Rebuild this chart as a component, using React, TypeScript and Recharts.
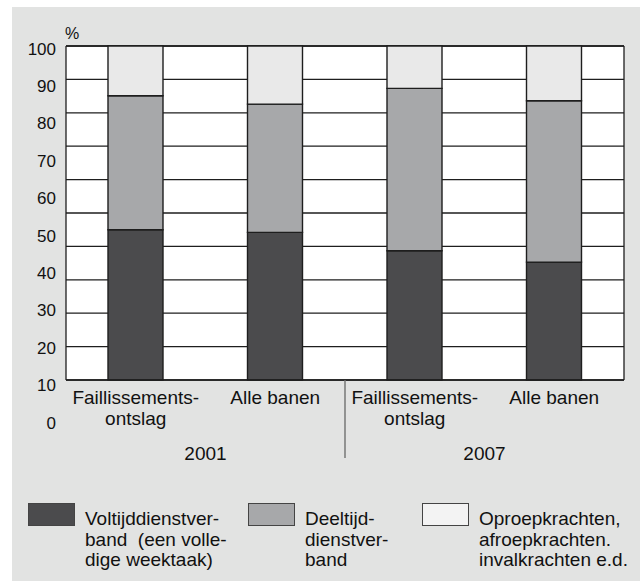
import { BarChart, Bar, XAxis, YAxis, CartesianGrid, Legend } from 'recharts';

const categories = ['Faillissements-\nontslag', 'Alle banen', 'Faillissements-\nontslag', 'Alle banen'];
const years = ['2001', '2001', '2007', '2007'];
const voltijd = [45, 44.2, 38.7, 35.3];
const deeltijd = [40.1, 38.4, 48.6, 48.3];
const oproep = [14.9, 17.4, 12.7, 16.4];
const yTicks = [0, 10, 20, 30, 40, 50, 60, 70, 80, 90, 100];

const seriesNames = [
  'Voltijddienstver-\nband  (een volle-\ndige weektaak)',
  'Deeltijd-\ndienstver-\nband',
  'Oproepkrachten,\nafroepkrachten.\ninvalkrachten e.d.',
];

const data = categories.map((cat, i) => ({
  cat,
  year: years[i],
  voltijd: voltijd[i],
  deeltijd: deeltijd[i],
  oproep: oproep[i],
}));

const W = 628;
const H = 574;
const MARGIN = { top: 39, right: 16, left: 0, bottom: 0 };
const Y_W = 54;
const BAND = (W - Y_W - MARGIN.right) / categories.length;
const FONT = '"Liberation Sans", Arial, Helvetica, sans-serif';

const colors = { dark: '#4b4b4d', mid: '#a7a8aa', light: '#e9e9e9', bg: '#e2e3e2', ink: '#1e1e1e' };
const legendFill = ['#4b4b4d', '#a7a8aa', '#f3f3f3'];
const legendLeft = [16, 236, 410];

function YTick(props: any) {
  const { x, y, payload } = props;
  // labels in the source sit a bit lower than their gridlines, drifting downwards
  const shift = 3 + (100 - payload.value) * 0.4;
  return (
    <text x={x - 10} y={y + shift} textAnchor="end" dominantBaseline="central" fontSize={17} fill="#111" fontFamily={FONT}>
      {payload.value}
    </text>
  );
}

function XTick(props: any) {
  const { x, y, payload, index } = props;
  const lines = String(payload.value).split('\n');
  return (
    <g>
      {lines.map((l, i) => (
        <text key={i} x={x} y={y + 24 + i * 21} textAnchor="middle" fontSize={19} fill="#111" fontFamily={FONT}>
          {l}
        </text>
      ))}
      {index % 2 === 0 && (
        <text x={x + BAND / 2} y={y + 80} textAnchor="middle" fontSize={19} fill="#111" fontFamily={FONT}>
          {years[index]}
        </text>
      )}
      {index === 2 && <line x1={x - BAND / 2} x2={x - BAND / 2} y1={y} y2={y + 78} stroke="#707070" strokeWidth={1.4} />}
    </g>
  );
}

function LegendBlock(props: any) {
  const items = [...(props.payload || [])].sort(
    (a: any, b: any) => seriesNames.indexOf(a.value) - seriesNames.indexOf(b.value)
  );
  return (
    <div style={{ position: 'relative', width: W, height: 80, fontFamily: FONT, fontSize: 19, color: '#111' }}>
      {items.map((p: any, i: number) => (
        <div key={i}>
          <div
            style={{
              position: 'absolute',
              left: legendLeft[i],
              top: 0,
              width: 47,
              height: 23,
              background: legendFill[i],
              border: '1px solid #444',
              boxSizing: 'border-box',
            }}
          />
          <div style={{ position: 'absolute', left: legendLeft[i] + 57, top: 6, whiteSpace: 'pre', lineHeight: '20.5px' }}>
            {p.value}
          </div>
        </div>
      ))}
    </div>
  );
}

export default function App() {
  return (
    <div style={{ position: 'absolute', left: 12, top: 7, width: W, height: H, background: colors.bg }}>
      <BarChart width={W} height={H} data={data} margin={MARGIN} barSize={55}>
        <CartesianGrid
          stroke={colors.ink}
          strokeWidth={1.3}
          fill="#fff"
          fillOpacity={1}
          verticalCoordinatesGenerator={({ offset }: any) => [offset.left, offset.left + offset.width]}
        />
        <XAxis
          dataKey="cat"
          height={H - 373}
          axisLine={{ stroke: colors.ink, strokeWidth: 1.3 }}
          tickLine={false}
          tickSize={0}
          tickMargin={0}
          interval={0}
          tick={<XTick />}
        />
        <YAxis
          width={Y_W}
          domain={[0, 100]}
          ticks={yTicks}
          axisLine={false}
          tickLine={false}
          tickSize={0}
          tickMargin={0}
          tick={<YTick />}
          label={(p: any) => (
            <text
              x={p.viewBox.x + p.viewBox.width + 6}
              y={p.viewBox.y - 13}
              textAnchor="middle"
              dominantBaseline="central"
              fontSize={16}
              fill="#111"
              fontFamily={FONT}
            >
              %
            </text>
          )}
        />
        <Legend
          layout="horizontal"
          verticalAlign="middle"
          align="center"
          wrapperStyle={{ top: 496, left: 0, width: W }}
          content={<LegendBlock />}
        />
        <Bar dataKey="voltijd" name={seriesNames[0]} stackId="a" fill={colors.dark} stroke={colors.ink} strokeWidth={1.4} isAnimationActive={false} />
        <Bar dataKey="deeltijd" name={seriesNames[1]} stackId="a" fill={colors.mid} stroke={colors.ink} strokeWidth={1.4} isAnimationActive={false} />
        <Bar dataKey="oproep" name={seriesNames[2]} stackId="a" fill={colors.light} stroke={colors.ink} strokeWidth={1.4} isAnimationActive={false} />
      </BarChart>
    </div>
  );
}
